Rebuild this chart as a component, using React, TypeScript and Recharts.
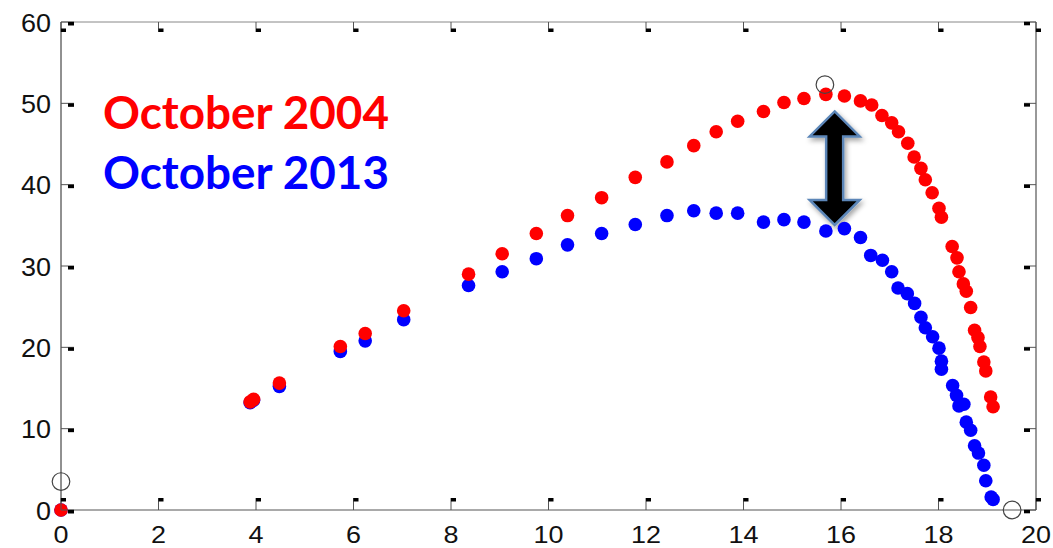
import React from "react";
import { ScatterChart, Scatter, XAxis, YAxis, ReferenceLine } from "recharts";

const xTicks = [0, 2, 4, 6, 8, 10, 12, 14, 16, 18, 20];
const yTicks = [0, 10, 20, 30, 40, 50, 60];

// October 2004 (red)
const oct2004X = [
  0, 3.88, 3.95, 4.48, 5.73, 6.24, 7.03, 8.36, 9.05, 9.75, 10.39, 11.09, 11.78, 12.43,
  12.98, 13.44, 13.88, 14.41, 14.83, 15.24, 15.69, 16.07, 16.4, 16.63, 16.84, 17.04,
  17.18, 17.37, 17.5, 17.64, 17.73, 17.87, 18.01, 18.06, 18.28, 18.38, 18.42, 18.51,
  18.57, 18.66, 18.74, 18.81, 18.85, 18.93, 18.97, 19.07, 19.12,
];
const oct2004Y = [
  0, 13.3, 13.6, 15.6, 20.1, 21.7, 24.5, 29.0, 31.5, 34.0, 36.2, 38.4, 40.9, 42.8,
  44.8, 46.5, 47.8, 49.0, 50.1, 50.6, 51.1, 50.9, 50.3, 49.8, 48.5, 47.6,
  46.5, 45.1, 43.4, 42.0, 40.6, 39.0, 37.1, 36.0, 32.4, 31.0, 29.3, 27.8,
  26.9, 24.9, 22.1, 21.2, 20.1, 18.2, 17.1, 13.9, 12.7,
];

// October 2013 (blue)
const oct2013X = [
  0, 3.88, 3.95, 4.48, 5.73, 6.24, 7.03, 8.36, 9.05, 9.75, 10.39, 11.09, 11.78, 12.43,
  12.98, 13.44, 13.88, 14.41, 14.83, 15.24, 15.69, 16.07, 16.4, 16.61, 16.85, 17.04,
  17.17, 17.36, 17.51, 17.64, 17.73, 17.88, 18.01, 18.06, 18.06, 18.29, 18.37, 18.42,
  18.52, 18.57, 18.66, 18.74, 18.82, 18.93, 18.97, 19.08, 19.12,
];
const oct2013Y = [
  0, 13.2, 13.5, 15.2, 19.5, 20.8, 23.4, 27.6, 29.3, 30.9, 32.6, 34.0, 35.1, 36.2,
  36.8, 36.5, 36.5, 35.4, 35.7, 35.4, 34.3, 34.6, 33.5, 31.3, 30.7, 29.3,
  27.3, 26.6, 25.4, 23.7, 22.4, 21.3, 19.9, 18.3, 17.3, 15.3, 14.1, 12.8,
  13.0, 10.8, 9.8, 7.9, 7.0, 5.5, 3.6, 1.6, 1.3,
];

// open circle markers
const markerX = [0, 15.67, 19.51];
const markerY = [3.5, 52.3, 0];

// double arrow between the two peaks
const arrowX = 15.87;
const arrowTop = 49.0;
const arrowBottom = 35.05;

const legendLabels = ["October 2004", "October 2013"];
const legendColors = ["#ff0000", "#0000ff"];

const zip = (xs: number[], ys: number[]) => xs.map((x, i) => ({ x, y: ys[i] }));
const redData = zip(oct2004X, oct2004Y);
const blueData = zip(oct2013X, oct2013Y);
const markerData = zip(markerX, markerY);

const W = 1053;
const H = 548;
const tickFont = "'Liberation Sans', Arial, sans-serif";

function dot(color: string) {
  return (p: any) => <circle cx={p.cx} cy={p.cy} r={6.8} fill={color} />;
}

function ring(p: any) {
  return <circle cx={p.cx} cy={p.cy} r={8.8} fill="none" stroke="#444" strokeWidth={1.2} />;
}

function BottomTick(p: any) {
  const { x, y, payload } = p;
  const s = String(payload.value);
  return (
    <g>
      <line x1={x} y1={y} x2={x} y2={y - 12} stroke="#555" />
      <rect x={x} y={y - 12} width={5} height={3.5} fill="#000" />
      <text x={x} y={y + 33} textAnchor="middle" fontFamily={tickFont} fontSize={23} fill="#111"
        textLength={15 * s.length} lengthAdjust="spacingAndGlyphs">{s}</text>
    </g>
  );
}

function TopTick(p: any) {
  const { x, y } = p;
  return (
    <g>
      <line x1={x} y1={y} x2={x} y2={y + 10} stroke="#555" />
      <rect x={x} y={y + 6.5} width={5} height={3.5} fill="#000" />
    </g>
  );
}

function LeftTick(p: any) {
  const { x, y, payload } = p;
  const s = String(payload.value);
  return (
    <g>
      <line x1={x} y1={y} x2={x + 13} y2={y} stroke="#555" />
      <rect x={x + 7} y={y} width={6} height={3.5} fill="#000" />
      <text x={x - 10} y={y + 9.5} textAnchor="end" fontFamily={tickFont} fontSize={25} fill="#111"
        textLength={15 * s.length} lengthAdjust="spacingAndGlyphs">{s}</text>
    </g>
  );
}

function RightTick(p: any) {
  const { x, y } = p;
  return (
    <g>
      <line x1={x} y1={y} x2={x - 12} y2={y} stroke="#555" />
      <rect x={x - 12} y={y} width={6} height={3.3} fill="#000" />
    </g>
  );
}

function DoubleArrow(p: any) {
  const { x1, y1, y2 } = p;
  const cx = x1;
  const top = Math.min(y1, y2);
  const bot = Math.max(y1, y2);
  const hw = 25; // head half width
  const sw = 8.5; // shaft half width
  const hh = 25; // head height
  const pts = [
    [cx, top],
    [cx + hw, top + hh],
    [cx + sw, top + hh],
    [cx + sw, bot - hh],
    [cx + hw, bot - hh],
    [cx, bot],
    [cx - hw, bot - hh],
    [cx - sw, bot - hh],
    [cx - sw, top + hh],
    [cx - hw, top + hh],
  ]
    .map((q) => q.join(","))
    .join(" ");
  return (
    <g>
      <defs>
        <filter id="arrowShadow" x="-50%" y="-20%" width="200%" height="140%">
          <feDropShadow dx="2" dy="3" stdDeviation="2.5" floodColor="#000" floodOpacity="0.35" />
        </filter>
      </defs>
      <polygon points={pts} fill="#000" stroke="#5b86b8" strokeWidth={2.5} strokeLinejoin="miter"
        filter="url(#arrowShadow)" />
    </g>
  );
}

export default function App() {
  return (
    <div style={{ position: "absolute", left: 0, top: 0, width: W, height: H, background: "#fff" }}>
      <ScatterChart width={W} height={H} margin={{ top: 21, right: 16, bottom: 0, left: 0 }}>
        <XAxis xAxisId={0} type="number" dataKey="x" domain={[0, 20]} ticks={xTicks} interval={0}
          height={38} tickSize={0} tickMargin={0} tickLine={false} axisLine={{ stroke: "#555" }}
          tick={(p: any) => <BottomTick {...p} />} />
        <XAxis xAxisId="top" orientation="top" type="number" dataKey="x" domain={[0, 20]} ticks={xTicks}
          interval={0} height={1} tickSize={0} tickMargin={0} tickLine={false} axisLine={{ stroke: "#888" }}
          tick={(p: any) => <TopTick {...p} />} />
        <YAxis yAxisId={0} type="number" dataKey="y" domain={[0, 60]} ticks={yTicks} interval={0}
          width={61} tickSize={0} tickMargin={0} tickLine={false} axisLine={{ stroke: "#222" }}
          tick={(p: any) => <LeftTick {...p} />} />
        <YAxis yAxisId="right" orientation="right" type="number" dataKey="y" domain={[0, 60]} ticks={yTicks}
          interval={0} width={1} tickSize={0} tickMargin={0} tickLine={false} axisLine={{ stroke: "#333" }}
          tick={(p: any) => <RightTick {...p} />} />
        <Scatter name="October 2013" data={blueData} fill="#0000ff" shape={dot("#0000ff")} isAnimationActive={false} />
        <Scatter name="October 2004" data={redData} fill="#ff0000" shape={dot("#ff0000")} isAnimationActive={false} />
        <Scatter data={markerData} xAxisId="top" yAxisId="right" fill="none" shape={ring} isAnimationActive={false} />
        <ReferenceLine
          segment={[{ x: arrowX, y: arrowTop }, { x: arrowX, y: arrowBottom }]}
          ifOverflow="visible"
          shape={(p: any) => <DoubleArrow {...p} />}
        />
      </ScatterChart>
      <svg width={W} height={H} style={{ position: "absolute", left: 0, top: 0, pointerEvents: "none" }}>
        {legendLabels.map((label, i) => (
          <text key={label} x={103} y={128.5 + i * 60} fill={legendColors[i]} fontFamily="Lato, 'Open Sans', sans-serif"
            fontWeight={700} fontSize={46} textLength={286} lengthAdjust="spacingAndGlyphs">{label}</text>
        ))}
      </svg>
    </div>
  );
}
